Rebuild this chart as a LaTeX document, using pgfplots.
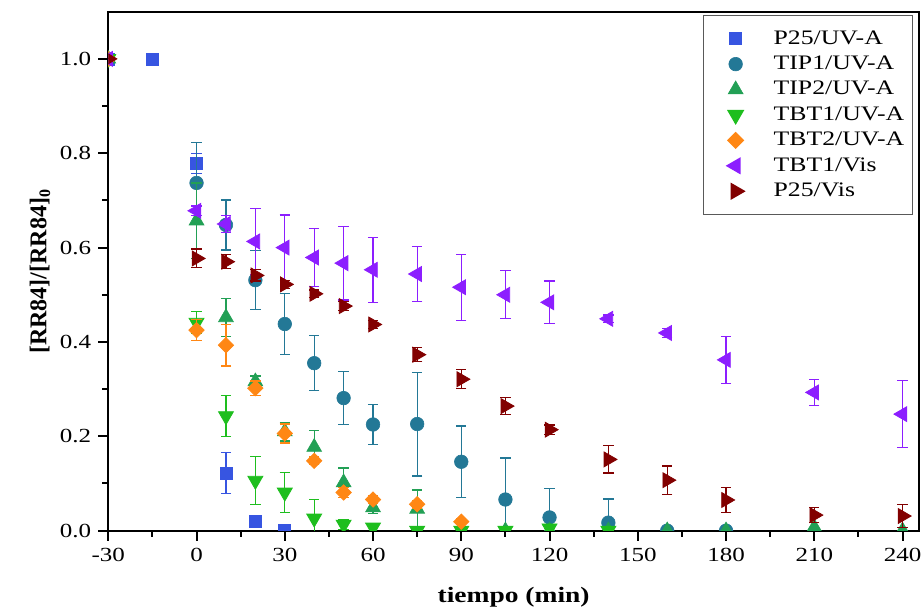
\documentclass[border=0pt]{standalone}
\usepackage{fontspec}
\setmainfont{Liberation Serif}[FakeStretch=1.25]
\newfontfamily\ylabfont{Liberation Serif}
\usepackage{pgfplots}
\pgfplotsset{compat=1.18}
\usepackage{pgfplotstable}

\definecolor{cP25}{RGB}{55,85,225}
\definecolor{cTIP1}{RGB}{35,120,150}
\definecolor{cTIP2}{RGB}{34,160,85}
\definecolor{cTBT1}{RGB}{30,190,30}
\definecolor{cTBT2}{RGB}{255,135,20}
\definecolor{cVis}{RGB}{140,30,255}
\definecolor{cP25Vis}{RGB}{130,0,0}

\pgfplotstableread{
x y e
-30 1.0 0
-15 1.0 0
0 0.778 0.021
10 0.122 0.043
20 0.019 0.012
30 0.0 0
}\tPUV
\pgfplotstableread{
x y e
-30 1.0 0
0 0.737 0.085
10 0.648 0.053
20 0.531 0.062
30 0.438 0.065
40 0.355 0.058
50 0.281 0.056
60 0.225 0.042
75 0.226 0.11
90 0.146 0.076
105 0.066 0.088
120 0.028 0.061
140 0.017 0.05
160 0.0 0
180 0.0 0
}\tTIPa
\pgfplotstableread{
x y e
-30 1.0 0
0 0.657 0.08
10 0.452 0.04
20 0.316 0.012
30 0.21 0.02
40 0.177 0.036
50 0.102 0.031
60 0.049 0.012
75 0.046 0.04
90 0.0 0
105 0.0 0
120 0.0 0
140 0.0 0
160 0.0 0
180 0.0 0
210 0.007 0
240 0.0 0
}\tTIPb
\pgfplotstableread{
x y e
-30 1.0 0
0 0.441 0.023
10 0.243 0.043
20 0.106 0.051
30 0.081 0.042
40 0.026 0.04
50 0.013 0.01
60 0.007 0.008
75 0.0 0
90 0.0 0
105 0.0 0
120 0.005 0
140 0.0 0
}\tTBTa
\pgfplotstableread{
x y e
-30 1.0 0
0 0.425 0.022
10 0.393 0.044
20 0.302 0.015
30 0.206 0.02
40 0.148 0.008
50 0.081 0.01
60 0.066 0.008
75 0.056 0.008
90 0.019 0.006
}\tTBTb
\pgfplotstableread{
x y e
-30 1.0 0
0 0.678 0.01
10 0.650 0.018
20 0.613 0.07
30 0.600 0.069
40 0.579 0.062
50 0.567 0.078
60 0.553 0.069
75 0.544 0.059
90 0.516 0.07
105 0.500 0.051
120 0.484 0.045
140 0.449 0.008
160 0.419 0.01
180 0.362 0.05
210 0.293 0.028
240 0.247 0.071
}\tVis
\pgfplotstableread{
x y e
-30 1.0 0
0 0.577 0.02
10 0.570 0.015
20 0.541 0.012
30 0.522 0.008
40 0.502 0.008
50 0.476 0.01
60 0.437 0.008
75 0.373 0.015
90 0.321 0.02
105 0.264 0.018
120 0.214 0.01
140 0.151 0.029
160 0.107 0.03
180 0.065 0.026
210 0.033 0.016
240 0.031 0.025
}\tPVis

\pgfplotsset{
  ser/.style={forget plot, only marks, solid, color=#1, mark options={solid, fill=#1, draw=#1, line width=0.3pt},
    error bars/y dir=both, error bars/y explicit,
    error bars/error bar style={solid, line width=0.6pt, #1},
    error bars/error mark options={solid, rotate=90, mark size=2.6pt, line width=0.6pt, #1}},
  leg/.style={only marks, color=#1, mark options={solid, fill=#1, draw=#1, line width=0.3pt},
    legend image code/.code={\path[draw=none,fill=none] (-3pt,0pt) -- (28pt,0pt); \draw[##1] plot coordinates {(11pt,0pt)};}},
}

\begin{document}
\begin{tikzpicture}
\begin{axis}[
  scale only axis, width=405.4pt, height=259.5pt,
  xmin=-30, xmax=245.6, ymin=0, ymax=1.1,
  clip marker paths=true,
  axis line style={line width=1pt},
  xtick={-30,0,30,60,90,120,150,180,210,240},
  xticklabels={-30,0,30,60,90,120,150,180,210,240},
  ytick={0,0.2,0.4,0.6,0.8,1.0},
  yticklabels={0.0,0.2,0.4,0.6,0.8,1.0},
  minor xtick={-15,15,45,75,105,135,165,195,225},
  minor ytick={0.1,0.3,0.5,0.7,0.9},
  tick align=outside, xtick pos=bottom, ytick pos=left,
  major tick length=5pt, minor tick length=3pt,
  every tick/.style={black, line width=1pt},
  tick label style={font=\fontsize{10}{12}\selectfont},
  xlabel={\textbf{tiempo (min)}},
  xlabel style={font=\fontsize{11}{13}\selectfont, yshift=-6pt},
  ylabel={\ylabfont\bfseries [RR84]/[RR84]\textsubscript{0}},
  ylabel style={font=\fontsize{12}{14}\selectfont, yshift=-2pt},
  legend cell align=left,
  legend style={at={(1,1)}, anchor=north east, xshift=-3pt, yshift=-1.5pt,
    draw=black!65, line width=0.7pt, font=\fontsize{10.3}{12}\selectfont,
    row sep=0.4pt, inner xsep=2pt, inner ysep=5.5pt},
]
\addplot[ser=cP25, mark=square*, mark size=3pt] table[x=x,y=y,y error=e]{\tPUV};
\addplot[ser=cTIP1, mark=*, mark size=3.4pt] table[x=x,y=y,y error=e]{\tTIPa};
\addplot[ser=cTIP2, mark=triangle*, mark size=4.3pt] table[x=x,y=y,y error=e]{\tTIPb};
\addplot[ser=cTBT1, mark=triangle*, mark size=4.3pt, mark options={rotate=180}] table[x=x,y=y,y error=e]{\tTBTa};
\addplot[ser=cTBT2, mark=square*, mark size=2.7pt, mark options={rotate=45}] table[x=x,y=y,y error=e]{\tTBTb};
\addplot[ser=cVis, mark=triangle*, mark size=4.3pt, mark options={rotate=90}] table[x=x,y=y,y error=e]{\tVis};
\addplot[ser=cP25Vis, mark=triangle*, mark size=4.3pt, mark options={rotate=-90}] table[x=x,y=y,y error=e]{\tPVis};
\addlegendimage{leg=cP25, mark=square*, mark size=3pt}
\addlegendentry{P25/UV-A}
\addlegendimage{leg=cTIP1, mark=*, mark size=3.4pt}
\addlegendentry{TIP1/UV-A}
\addlegendimage{leg=cTIP2, mark=triangle*, mark size=4.3pt}
\addlegendentry{TIP2/UV-A}
\addlegendimage{leg=cTBT1, mark=triangle*, mark size=4.3pt, mark options={rotate=180}}
\addlegendentry{TBT1/UV-A}
\addlegendimage{leg=cTBT2, mark=square*, mark size=2.7pt, mark options={rotate=45}}
\addlegendentry{TBT2/UV-A}
\addlegendimage{leg=cVis, mark=triangle*, mark size=4.3pt, mark options={rotate=90}}
\addlegendentry{TBT1/Vis}
\addlegendimage{leg=cP25Vis, mark=triangle*, mark size=4.3pt, mark options={rotate=-90}}
\addlegendentry{P25/Vis}
\end{axis}
\pgfresetboundingbox
\path ([shift={(-54.15pt,-40.15pt)}]current axis.south west) rectangle ([shift={(2.5pt,5.85pt)}]current axis.north east);
\end{tikzpicture}
\end{document}
